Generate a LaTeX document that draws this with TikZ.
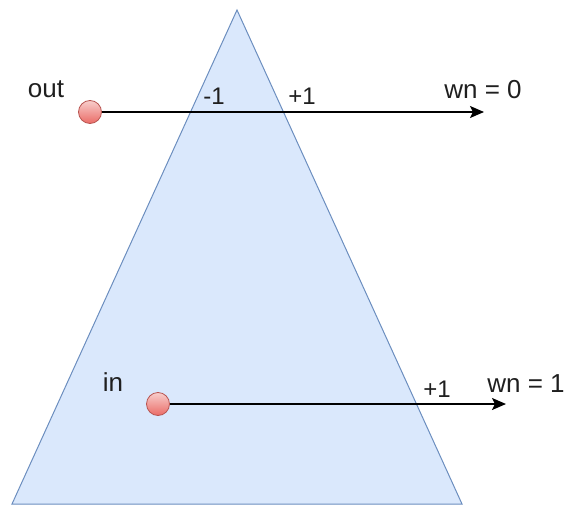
\documentclass[tikz,border=0pt]{standalone}
\usepackage{fontspec}
\setmainfont{Liberation Sans}
\usetikzlibrary{arrows.meta}
\definecolor{triFill}{HTML}{DAE8FC}
\definecolor{triLine}{HTML}{6C8EBF}
\definecolor{ptTop}{HTML}{F8CECC}
\definecolor{ptBot}{HTML}{EA6B66}
\definecolor{ptLine}{HTML}{B85450}
\tikzset{
  pt/.style={circle, minimum size=23pt, inner sep=0pt, draw=ptLine, line width=0.8pt,
             top color=ptTop, bottom color=ptBot},
  ray/.style={line width=1.8pt, -{Stealth[length=14pt, width=12pt, inset=3pt]}},
  lbl/.style={anchor=base, inner sep=0pt, text=black!88, font=\fontsize{26}{30}\selectfont},
  cnt/.style={anchor=base, inner sep=0pt, text=black!88, font=\fontsize{24}{28}\selectfont}
}
\begin{document}
\begin{tikzpicture}[x=1pt, y=-1pt]
  \useasboundingbox (0,0) rectangle (573,508);
  \def\ya{112}  % upper ray
  \def\yb{404}  % lower ray

  % Triangle
  \coordinate (apex) at (237,10);
  \coordinate (baseL) at (12,504);
  \coordinate (baseR) at (462,504);
  \filldraw[fill=triFill, draw=triLine, line width=1pt] (apex) -- (baseR) -- (baseL) -- cycle;

  % Point outside
  \node[pt] (outpt) at (90,\ya) {};
  \coordinate (outend) at (484,\ya);
  \draw[ray] (outpt) -- (outend);
  \node[lbl] (outlbl) at (46,98) {out};
  \node[cnt] (crossA) at (214,105) {-1};
  \node[cnt] (crossB) at (302,105) {+1};
  \node[lbl] (wnA) at (483,99) {wn = 0};

  % Point inside
  \node[pt] (inpt) at (158,\yb) {};
  \coordinate (inend) at (506,\yb);
  \draw[ray] (inpt) -- (inend);
  \node[lbl] (inlbl) at (113,391) {in};
  \node[cnt] (crossC) at (437,397) {+1};
  \node[lbl] (wnB) at (526,392) {wn = 1};

\end{tikzpicture}
\end{document}
